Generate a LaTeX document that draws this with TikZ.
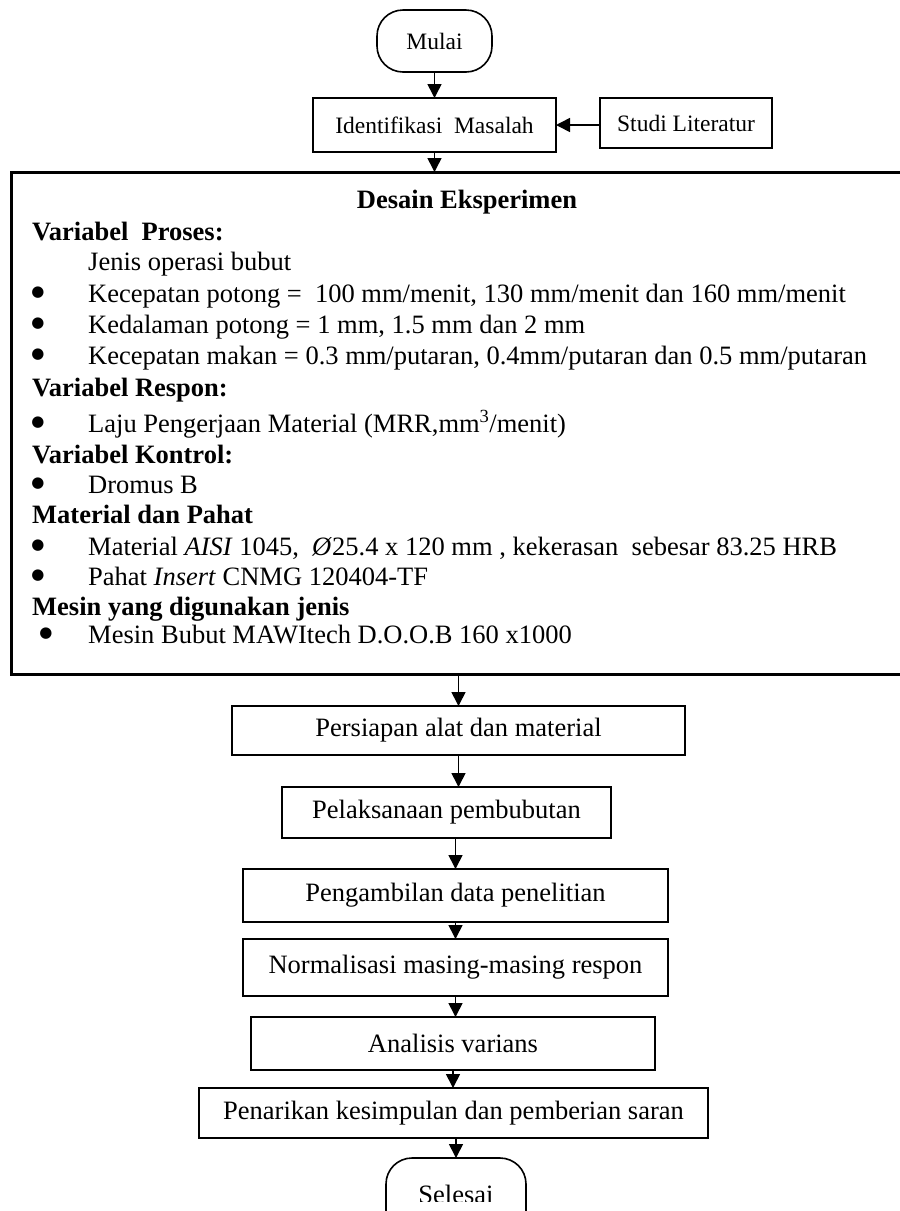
\documentclass[tikz,border=0pt]{standalone}
\usepackage{fontspec}
\setmainfont{Liberation Serif}
\newfontfamily\symfont{DejaVu Sans}
\usetikzlibrary{arrows.meta}
\newcommand{\bigfs}{\fontsize{26.5}{31}\selectfont}
\newcommand{\smallfs}{\fontsize{23.5}{28}\selectfont}
\newcommand{\bulfs}{\symfont\fontsize{15}{15}\selectfont}
\begin{document}
\begin{tikzpicture}[x=1pt,y=-1pt,
  box/.style={draw, line width=1.6pt, inner sep=0pt, outer sep=0pt, font=\bigfs, align=center},
  term/.style={box, rounded corners=26pt},
  arr/.style={line width=1.6pt, -{Triangle[length=14pt,width=14pt]}},
  ln/.style={anchor=base west, inner sep=0pt, font=\bigfs},
  hd/.style={anchor=base west, inner sep=0pt, font=\bigfs\bfseries},
  bul/.style={anchor=center, inner sep=0pt, font=\bulfs}]
\clip (0,0) rectangle (900,1211);
\fill[white] (0,0) rectangle (900,1211);

% top part
\node[term, font=\smallfs, minimum width=115pt, minimum height=62pt] (mulai) at (434.5,41) {Mulai};
\node[box, font=\smallfs, minimum width=243pt, minimum height=54pt] (ident) at (434.5,125) {Identifikasi\ \ Masalah};
\node[box, font=\smallfs, minimum width=172pt, minimum height=50pt] (studi) at (686,123) {Studi Literatur};

% big box
\node[box, line width=3pt, minimum width=904pt, minimum height=502pt] (big) at (463,423) {};
\node[anchor=base, inner sep=0pt, font=\bigfs\bfseries] (t0) at (467,208) {Desain Eksperimen};
\node[hd] (t1) at (32,240) {Variabel\ \ Proses:};
\node[ln] (t2) at (88,270) {Jenis operasi bubut};
\node[bul] (b3) at (38,293) {●};
\node[ln] (t3) at (88,302) {Kecepatan potong =\ \ 100 mm/menit, 130 mm/menit dan 160 mm/menit};
\node[bul] (b4) at (38,324) {●};
\node[ln] (t4) at (88,333) {Kedalaman potong = 1 mm, 1.5 mm dan 2 mm};
\node[bul] (b5) at (38,355) {●};
\node[ln] (t5) at (88,364) {Kecepatan makan = 0.3 mm/putaran, 0.4mm/putaran dan 0.5 mm/putaran};
\node[hd] (t6) at (32,396) {Variabel Respon:};
\node[bul] (b7) at (38,423) {●};
\node[ln] (t7) at (88,432) {Laju Pengerjaan Material (MRR,mm\textsuperscript{3}/menit)};
\node[hd] (t8) at (32,463) {Variabel Kontrol:};
\node[bul] (b9) at (38,484) {●};
\node[ln] (t9) at (88,493) {Dromus B};
\node[hd] (t10) at (32,523) {Material dan Pahat};
\node[bul] (b11) at (38,546) {●};
\node[ln] (t11) at (88,555) {Material \textit{AISI} 1045,\ \ \textit{Ø}25.4 x 120 mm , kekerasan\ \ sebesar 83.25 HRB};
\node[bul] (b12) at (38,576) {●};
\node[ln] (t12) at (88,585) {Pahat \textit{Insert} CNMG 120404-TF};
\node[hd] (t13) at (32,615) {Mesin yang digunakan jenis};
\node[bul] (b14) at (46,634) {●};
\node[ln] (t14) at (88,643) {Mesin Bubut MAWItech D.O.O.B 160 x1000};

% lower part
\node[box, minimum width=453pt, minimum height=49pt] (pers) at (458.5,730.5) {Persiapan alat dan material};
\node[box, minimum width=329pt, minimum height=51pt] (pelak) at (446.5,812.5) {Pelaksanaan pembubutan};
\node[box, minimum width=425pt, minimum height=53pt] (peng) at (455.5,895.5) {Pengambilan data penelitian};
\node[box, minimum width=425pt, minimum height=57pt] (norm) at (455.5,967.5) {Normalisasi masing-masing respon};
\node[box, minimum width=404pt, minimum height=53pt] (anal) at (453,1043.5) {Analisis varians};
\node[box, minimum width=509pt, minimum height=50pt] (pen) at (453.5,1113) {Penarikan kesimpulan dan pemberian saran};
\node[term, minimum width=140pt, minimum height=80pt] (sel) at (456,1198) {};
\begin{scope}
  \clip (0,0) rectangle (900,1201);
  \node[anchor=base, inner sep=0pt, font=\bigfs] (seltext) at (sel.center |- 0,1203) {Selesai};
\end{scope}

% connectors
\draw[arr] (mulai.south) -- (ident.north);
\draw[arr] (ident.east -| studi.west) -- (ident.east);
\draw[arr] (ident.south) -- (ident.south |- big.north);
\draw[arr] (pers.north |- big.south) -- (pers.north);
\draw[arr] (pers.south) -- (pers.south |- pelak.north);
\draw[arr] (peng.north |- pelak.south) -- (peng.north);
\draw[arr] (peng.south) -- (norm.north);
\draw[arr] (norm.south) -- (norm.south |- anal.north);
\draw[arr] (anal.south) -- (anal.south |- pen.north);
\draw[arr] (sel.north |- pen.south) -- (sel.north);
\end{tikzpicture}
\end{document}
